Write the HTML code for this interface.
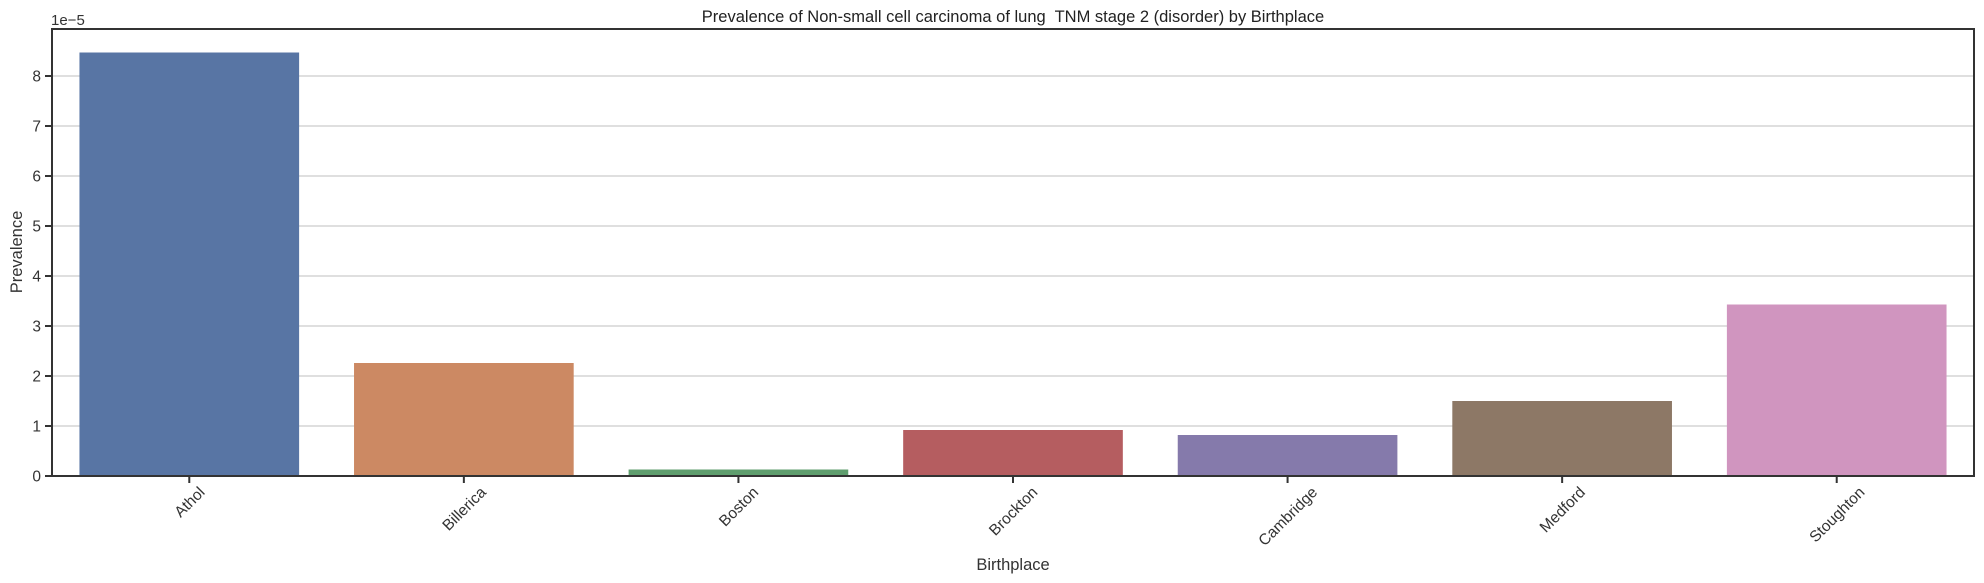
<!DOCTYPE html>
<html><head><meta charset="utf-8"><style>
html,body{margin:0;padding:0;background:#fff;}
svg{display:block;font-family:"Liberation Sans",Arial,sans-serif;}
</style></head><body>
<svg id="chart" width="1984" height="583" viewBox="0 0 1984 583">
<g id="grid"></g><g id="bars"></g>
<rect x="52" y="29" width="1922" height="447" fill="none" stroke="#333" stroke-width="2"/>
<g id="yticks"></g><g id="xticks"></g>
<text x="1013" y="22" text-anchor="middle" font-size="16.5" fill="#222" style="white-space:pre" xml:space="preserve">Prevalence of Non-small cell carcinoma of lung  TNM stage 2 (disorder) by Birthplace</text>
<text x="51" y="25" font-size="15" fill="#333">1e−5</text>
<text x="1013" y="570" text-anchor="middle" font-size="16.5" fill="#333">Birthplace</text>
<text transform="translate(22,252) rotate(-90)" text-anchor="middle" font-size="16.5" fill="#333">Prevalence</text>
</svg>
<script>
const categories = ["Athol","Billerica","Boston","Brockton","Cambridge","Medford","Stoughton"];
const values = [8.47,2.26,0.13,0.92,0.82,1.5,3.43];
const colors = ["#5875a4","#cc8963","#5f9e6e","#b55d60","#857aab","#8d7866","#d095bf"];
const yTicks = [0,1,2,3,4,5,6,7,8];
const NS="http://www.w3.org/2000/svg";
const L=52,R=1974,T=29,B=476;
const band=(R-L)/categories.length;
function y(v){return B-v*50;}
function x(i){return L+band*(i+0.5);}
function mk(tag,attrs,parent){const e=document.createElementNS(NS,tag);for(const k in attrs)e.setAttribute(k,attrs[k]);document.getElementById(parent).appendChild(e);return e;}
yTicks.forEach(t=>{
  if(t>0){const g=mk('line',{x1:L,x2:R,y1:y(t),y2:y(t),stroke:'#cccccc','stroke-width':1.2},'grid');
  
  }
  const tk=mk('line',{x1:L-7,x2:L,y1:y(t),y2:y(t),stroke:'#333','stroke-width':2},'yticks');
  
  
  const lb=mk('text',{x:L-11,y:y(t)+5.5,'text-anchor':'end','font-size':15.5,fill:'#333'},'yticks');
  lb.textContent=t;
  
  
});
categories.forEach((c,i)=>{
  const w=band*0.8;
  const b=mk('rect',{x:x(i)-w/2,y:y(values[i]),width:w,height:B-y(values[i]),fill:colors[i]},'bars');
  
  
  const tk=mk('line',{x1:x(i),x2:x(i),y1:B,y2:B+7,stroke:'#333','stroke-width':2},'xticks');
  
  
  const lb=mk('text',{'text-anchor':'middle','font-size':15.5,fill:'#333'},'xticks');
  lb.textContent=c;
  const len=lb.getComputedTextLength();
  const cy=484+(len+15)*0.707/2;
  lb.setAttribute('transform','translate('+x(i)+','+cy+') rotate(-45) translate(0,5.5)');
  
  
});
</script>
</body></html>
